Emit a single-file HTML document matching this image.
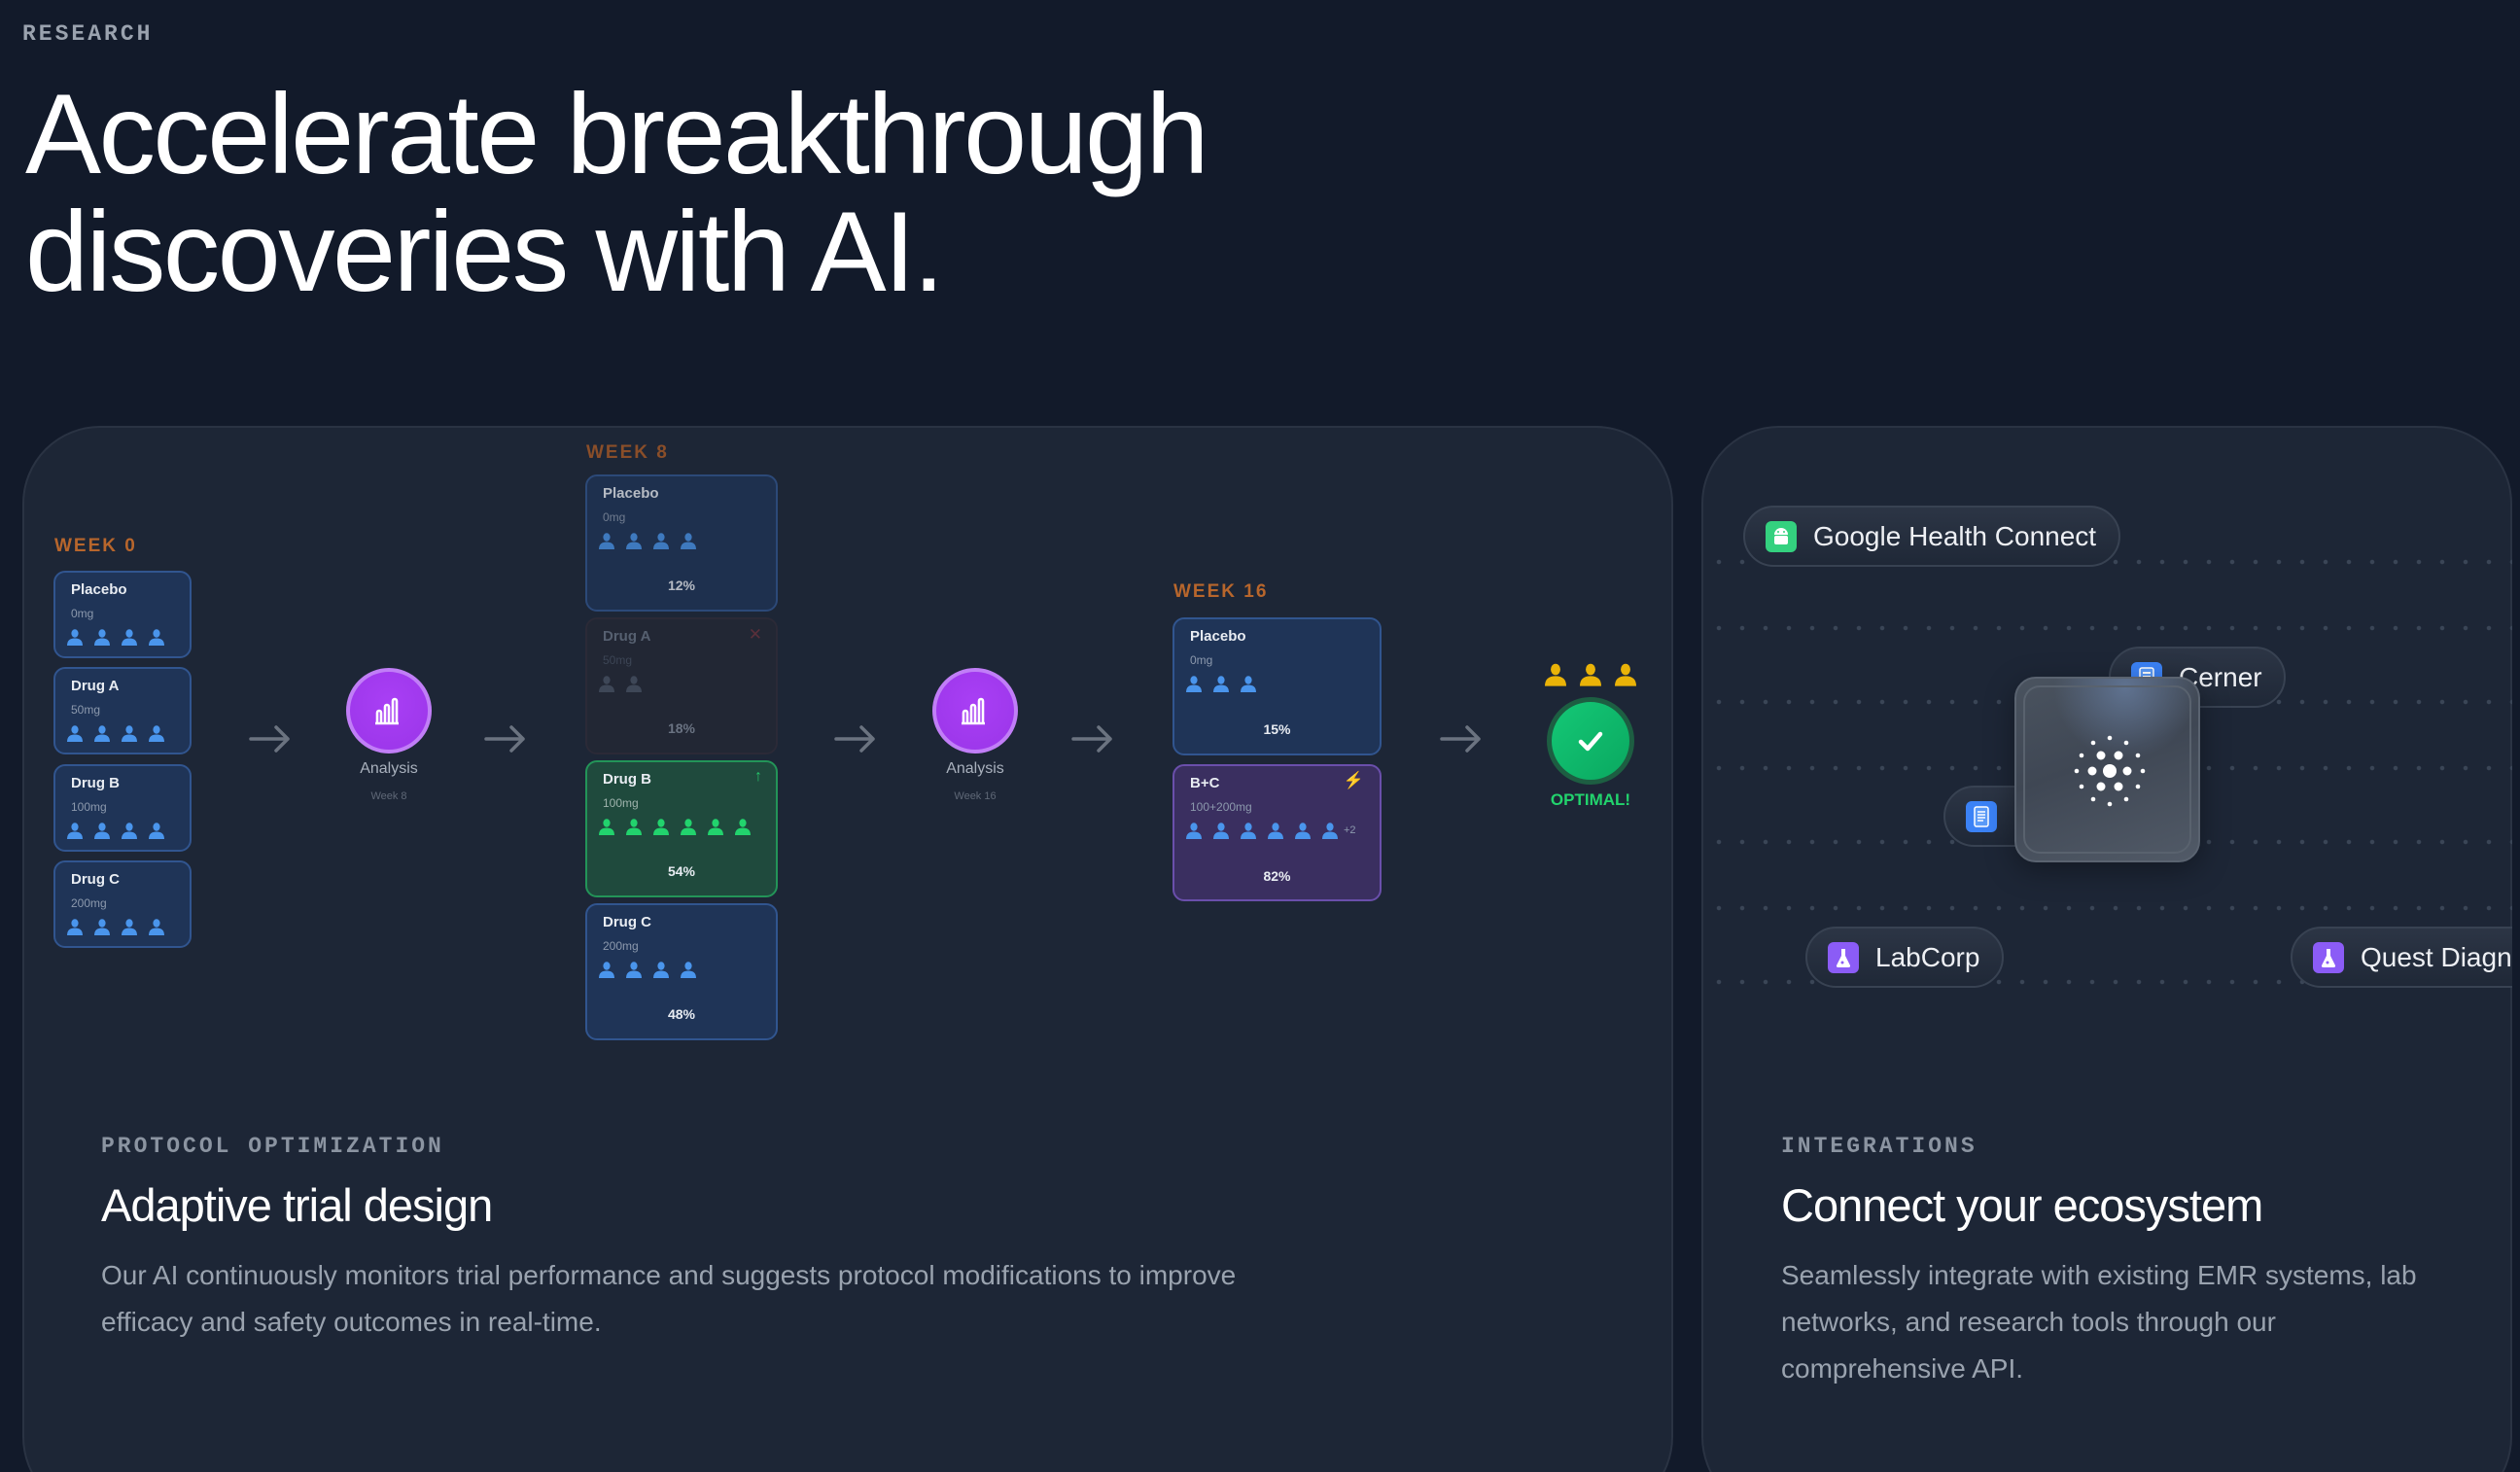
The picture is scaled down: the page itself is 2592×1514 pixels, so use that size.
<!DOCTYPE html>
<html><head><meta charset="utf-8"><style>
*{margin:0;padding:0;box-sizing:border-box}
html,body{width:2592px;height:1514px;overflow:hidden}
body{background:#121a2a;position:relative;font-family:"Liberation Sans",sans-serif;color:#fff}
#root{position:absolute;left:0;top:0;width:2592px;height:1514px;overflow:hidden}
.a{position:absolute}
.mono{font-family:"Liberation Mono",monospace}
.card{position:absolute;border-radius:80px;background:#1d2636;border:2px solid #2a3343;overflow:hidden}
.wk{position:absolute;font-weight:bold;font-size:19px;letter-spacing:2px;color:#b8662c}
.dc{position:absolute;border-radius:12px;border:2px solid #31558f;background:#1f3457}
.dc .t{position:absolute;left:16px;top:9px;font-weight:bold;font-size:15px;color:#e8ecf2}
.dc .m{position:absolute;left:16px;top:35px;font-size:12px;color:#8c99ad}
.dc .pp{position:absolute;left:12px;top:58px;display:flex;gap:12px}
.dc .pc{position:absolute;left:0;right:0;text-align:center;font-weight:bold;font-size:14px;color:#e8ecf2}
.pp svg{width:16px;height:17px}
.arr{position:absolute;width:44px;height:30px}
.an{position:absolute;width:88px;height:88px;border-radius:50%;background:radial-gradient(circle at 50% 40%,#a93ff5,#9a35e8);border:4px solid #c17ef7;display:flex;align-items:center;justify-content:center}
.anl{position:absolute;width:200px;text-align:center;font-size:16px;color:#a9b1bd}
.anw{position:absolute;width:200px;text-align:center;font-size:11px;color:#5f6877}
.pill{position:absolute;height:63px;border-radius:32px;border:2px solid #384252;background:linear-gradient(#2c3545,#1f2837);display:flex;align-items:center;padding-left:21px;font-size:28px;color:#eef0f4;white-space:nowrap}
.ic{width:32px;height:32px;border-radius:6px;margin-right:17px;flex:none;display:flex;align-items:center;justify-content:center}
.dots{position:absolute;left:1750px;width:834px;height:6px;background-image:radial-gradient(circle,#3a4556 2px,transparent 2.5px);background-size:24px 6px;background-position:6px 0}
.lbl{position:absolute;font-family:"Liberation Mono",monospace;font-size:23px;letter-spacing:3px;color:#8b94a1;font-weight:bold}
.h3{position:absolute;font-size:47px;letter-spacing:-1px;color:#fff}
.par{position:absolute;font-size:28px;line-height:48px;color:#9aa3af}
</style></head><body><div id="root">
<svg width="0" height="0" style="position:absolute"><defs>
<symbol id="ps" viewBox="0 0 16 17"><ellipse cx="8" cy="4.5" rx="3.6" ry="4.2"/><path d="M0 17 Q0 9.5 8 9.5 Q16 9.5 16 17Z"/></symbol>
<symbol id="ar" viewBox="0 0 44 30"><path d="M2 15H40M28 3L40 15L28 27" fill="none" stroke="#6b7380" stroke-width="3.5" stroke-linecap="round" stroke-linejoin="round"/></symbol>
<symbol id="bar" viewBox="0 0 34 34"><path d="M5 30V19a2 2 0 0 1 4 0V30M13 30V13a2 2 0 0 1 4 0V30M21 30V7a2 2 0 0 1 4 0V30M3 30H27" fill="none" stroke="#fff" stroke-width="2.6" stroke-linejoin="round"/></symbol>
</defs></svg>

<div class="a mono" style="left:23px;top:22px;font-size:23px;letter-spacing:3px;color:#9aa2ae;font-weight:bold">RESEARCH</div>
<div class="a" style="left:26px;top:77px;font-size:117px;line-height:121px;letter-spacing:-2.6px;color:#fff;white-space:nowrap">Accelerate breakthrough<br>discoveries with AI.</div>

<!-- Left card -->
<div class="card" style="left:23px;top:438px;width:1698px;height:1120px"></div>

<div class="wk" style="left:56px;top:551px">WEEK 0</div>
<div class="dc" style="left:55px;top:587px;width:142px;height:90px"><div class="t">Placebo</div><div class="m">0mg</div><div class="pp" style="fill:#4a95ec"><svg><use href="#ps"/></svg><svg><use href="#ps"/></svg><svg><use href="#ps"/></svg><svg><use href="#ps"/></svg></div></div>
<div class="dc" style="left:55px;top:686px;width:142px;height:90px"><div class="t">Drug A</div><div class="m">50mg</div><div class="pp" style="fill:#4a95ec"><svg><use href="#ps"/></svg><svg><use href="#ps"/></svg><svg><use href="#ps"/></svg><svg><use href="#ps"/></svg></div></div>
<div class="dc" style="left:55px;top:786px;width:142px;height:90px"><div class="t">Drug B</div><div class="m">100mg</div><div class="pp" style="fill:#4a95ec"><svg><use href="#ps"/></svg><svg><use href="#ps"/></svg><svg><use href="#ps"/></svg><svg><use href="#ps"/></svg></div></div>
<div class="dc" style="left:55px;top:885px;width:142px;height:90px"><div class="t">Drug C</div><div class="m">200mg</div><div class="pp" style="fill:#4a95ec"><svg><use href="#ps"/></svg><svg><use href="#ps"/></svg><svg><use href="#ps"/></svg><svg><use href="#ps"/></svg></div></div>

<svg class="arr" style="left:256px;top:745px"><use href="#ar"/></svg>
<div class="an" style="left:356px;top:687px"><svg width="34" height="34"><use href="#bar"/></svg></div>
<div class="anl" style="left:300px;top:782px">Analysis</div>
<div class="anw" style="left:300px;top:813px">Week 8</div>
<svg class="arr" style="left:498px;top:745px"><use href="#ar"/></svg>

<div class="wk" style="left:603px;top:455px;color:#8a4e29">WEEK 8</div>
<div class="dc" style="left:602px;top:488px;width:198px;height:141px;opacity:.75"><div class="t">Placebo</div><div class="m">0mg</div><div class="pp" style="fill:#4a95ec"><svg><use href="#ps"/></svg><svg><use href="#ps"/></svg><svg><use href="#ps"/></svg><svg><use href="#ps"/></svg></div><div class="pc" style="top:104px">12%</div></div>
<div class="dc" style="left:602px;top:635px;width:198px;height:141px;background:#222734;border-color:#2b2a37"><div class="t" style="color:#566070">Drug A</div><div class="m" style="color:#3c4555">50mg</div><div class="a" style="right:14px;top:6px;color:#5a2f3a;font-size:17px">✕</div><div class="pp" style="fill:#3e4757"><svg><use href="#ps"/></svg><svg><use href="#ps"/></svg></div><div class="pc" style="top:104px;color:#6a7382">18%</div></div>
<div class="dc" style="left:602px;top:782px;width:198px;height:141px;background:#1f4a3d;border-color:#239458"><div class="t">Drug B</div><div class="m" style="color:#9fb3ad">100mg</div><div class="a" style="right:14px;top:6px;color:#25c46a;font-size:16px">↑</div><div class="pp" style="fill:#22d36d"><svg><use href="#ps"/></svg><svg><use href="#ps"/></svg><svg><use href="#ps"/></svg><svg><use href="#ps"/></svg><svg><use href="#ps"/></svg><svg><use href="#ps"/></svg></div><div class="pc" style="top:104px">54%</div></div>
<div class="dc" style="left:602px;top:929px;width:198px;height:141px"><div class="t">Drug C</div><div class="m">200mg</div><div class="pp" style="fill:#4a95ec"><svg><use href="#ps"/></svg><svg><use href="#ps"/></svg><svg><use href="#ps"/></svg><svg><use href="#ps"/></svg></div><div class="pc" style="top:104px">48%</div></div>

<svg class="arr" style="left:858px;top:745px"><use href="#ar"/></svg>
<div class="an" style="left:959px;top:687px"><svg width="34" height="34"><use href="#bar"/></svg></div>
<div class="anl" style="left:903px;top:782px">Analysis</div>
<div class="anw" style="left:903px;top:813px">Week 16</div>
<svg class="arr" style="left:1102px;top:745px"><use href="#ar"/></svg>

<div class="wk" style="left:1207px;top:598px">WEEK 16</div>
<div class="dc" style="left:1206px;top:635px;width:215px;height:142px"><div class="t">Placebo</div><div class="m">0mg</div><div class="pp" style="fill:#4a95ec"><svg><use href="#ps"/></svg><svg><use href="#ps"/></svg><svg><use href="#ps"/></svg></div><div class="pc" style="top:105px">15%</div></div>
<div class="dc" style="left:1206px;top:786px;width:215px;height:141px;background:#3a2f60;border-color:#6a4fab"><div class="t">B+C</div><div class="m">100+200mg</div><div class="a" style="right:16px;top:5px;color:#f5b820;font-size:17px">⚡</div><div class="pp" style="fill:#4a95ec;gap:12px"><svg><use href="#ps"/></svg><svg><use href="#ps"/></svg><svg><use href="#ps"/></svg><svg><use href="#ps"/></svg><svg><use href="#ps"/></svg><svg><use href="#ps"/></svg><span style="font-size:11px;color:#8c99ad;margin-left:-6px;line-height:17px">+2</span></div><div class="pc" style="top:105px">82%</div></div>

<svg class="arr" style="left:1481px;top:745px"><use href="#ar"/></svg>
<div class="a" style="left:1589px;top:682px;display:flex;gap:14px;fill:#eab308"><svg width="22" height="24" viewBox="0 0 16 17"><use href="#ps"/></svg><svg width="22" height="24" viewBox="0 0 16 17"><use href="#ps"/></svg><svg width="22" height="24" viewBox="0 0 16 17"><use href="#ps"/></svg></div>
<div class="a" style="left:1591px;top:717px;width:90px;height:90px;border-radius:50%;background:linear-gradient(135deg,#14c876,#0aa860);border:5px solid #1d5e42;display:flex;align-items:center;justify-content:center"><svg width="34" height="34" viewBox="0 0 34 34"><path d="M7 18L14 25L27 10" fill="none" stroke="#fff" stroke-width="4.5" stroke-linecap="round" stroke-linejoin="round"/></svg></div>
<div class="a" style="left:1536px;top:813px;width:200px;text-align:center;font-weight:bold;font-size:17px;color:#22d36d">OPTIMAL!</div>

<div class="lbl" style="left:104px;top:1166px">PROTOCOL OPTIMIZATION</div>
<div class="h3" style="left:104px;top:1212px">Adaptive trial design</div>
<div class="par" style="left:104px;top:1288px;width:1240px">Our AI continuously monitors trial performance and suggests protocol modifications to improve efficacy and safety outcomes in real-time.</div>

<!-- Right card -->
<div class="card" style="left:1750px;top:438px;width:834px;height:1120px"></div>
<div class="dots" style="top:575px"></div>
<div class="dots" style="top:643px"></div>
<div class="dots" style="top:719px"></div>
<div class="dots" style="top:787px"></div>
<div class="dots" style="top:863px"></div>
<div class="dots" style="top:931px"></div>
<div class="dots" style="top:1007px"></div>

<div class="pill" style="left:1793px;top:520px;width:388px"><div class="ic" style="background:#34d17f"><svg width="20" height="22" viewBox="0 0 20 22" fill="#fff"><path d="M3 9a7 7 0 0 1 14 0z"/><rect x="3" y="10" width="14" height="9" rx="2"/><circle cx="7" cy="6" r="1" fill="#34d17f"/><circle cx="13" cy="6" r="1" fill="#34d17f"/></svg></div>Google Health Connect</div>
<div class="pill" style="left:2169px;top:665px;width:182px"><div class="ic" style="background:#3b82f6"><svg width="18" height="22" viewBox="0 0 18 22"><rect x="2" y="1" width="14" height="20" rx="2" fill="#5b9bf8" stroke="#fff" stroke-width="1.5"/><path d="M5 6H13M5 10H13M5 14H13" stroke="#fff" stroke-width="2"/></svg></div>Cerner</div>
<div class="pill" style="left:1999px;top:808px;width:200px"><div class="ic" style="background:#3b82f6"><svg width="18" height="22" viewBox="0 0 18 22"><rect x="2" y="1" width="14" height="20" rx="2" fill="#5b9bf8" stroke="#fff" stroke-width="1.5"/><path d="M5 6H13M5 9H13M5 12H13M5 15H11" stroke="#fff" stroke-width="1.6"/></svg></div>athena</div>
<div class="a" style="left:2072px;top:696px;width:191px;height:191px;border-radius:22px;background:radial-gradient(circle at 60% 5%,#5f7290 0,transparent 35%),linear-gradient(160deg,#4a535f,#3f4754 45%,#515a67);border:2px solid #5a6370;box-shadow:0 8px 30px rgba(0,0,0,.35)">
<div class="a" style="left:7px;top:7px;right:7px;bottom:7px;border-radius:17px;border:2px solid #59626e"></div>
<svg class="a" style="left:56px;top:55px" width="80" height="80" viewBox="-40 -40 80 80" fill="#fff"><circle r="7"/><circle cx="-18" r="4.5"/><circle cx="18" r="4.5"/><circle cx="-9" cy="-16" r="4.5"/><circle cx="9" cy="-16" r="4.5"/><circle cx="-9" cy="16" r="4.5"/><circle cx="9" cy="16" r="4.5"/><circle cx="-34" r="2.3"/><circle cx="34" r="2.3"/><circle cx="0" cy="-34" r="2.3"/><circle cx="0" cy="34" r="2.3"/><circle cx="-29" cy="-16" r="2.3"/><circle cx="29" cy="-16" r="2.3"/><circle cx="-29" cy="16" r="2.3"/><circle cx="29" cy="16" r="2.3"/><circle cx="-17" cy="-29" r="2.3"/><circle cx="17" cy="-29" r="2.3"/><circle cx="-17" cy="29" r="2.3"/><circle cx="17" cy="29" r="2.3"/></svg>
</div>
<div class="pill" style="left:1857px;top:953px;width:204px"><div class="ic" style="background:#8b5cf6"><svg width="18" height="22" viewBox="0 0 18 22"><path d="M6 2H12M7 2V9L2 19Q1.5 21 4 21H14Q16.5 21 16 19L11 9V2" fill="#fff"/><circle cx="8" cy="16" r="1.5" fill="#8b5cf6"/></svg></div>LabCorp</div>
<div class="a" style="left:2356px;top:953px;width:228px;height:63px;overflow:hidden"><div class="pill" style="left:0;top:0;width:340px"><div class="ic" style="background:#8b5cf6"><svg width="18" height="22" viewBox="0 0 18 22"><path d="M6 2H12M7 2V9L2 19Q1.5 21 4 21H14Q16.5 21 16 19L11 9V2" fill="#fff"/><circle cx="8" cy="16" r="1.5" fill="#8b5cf6"/></svg></div>Quest Diagnostics</div></div>

<div class="lbl" style="left:1832px;top:1166px">INTEGRATIONS</div>
<div class="h3" style="left:1832px;top:1212px">Connect your ecosystem</div>
<div class="par" style="left:1832px;top:1288px;width:690px">Seamlessly integrate with existing EMR systems, lab networks, and research tools through our comprehensive API.</div>
</div></body></html>
